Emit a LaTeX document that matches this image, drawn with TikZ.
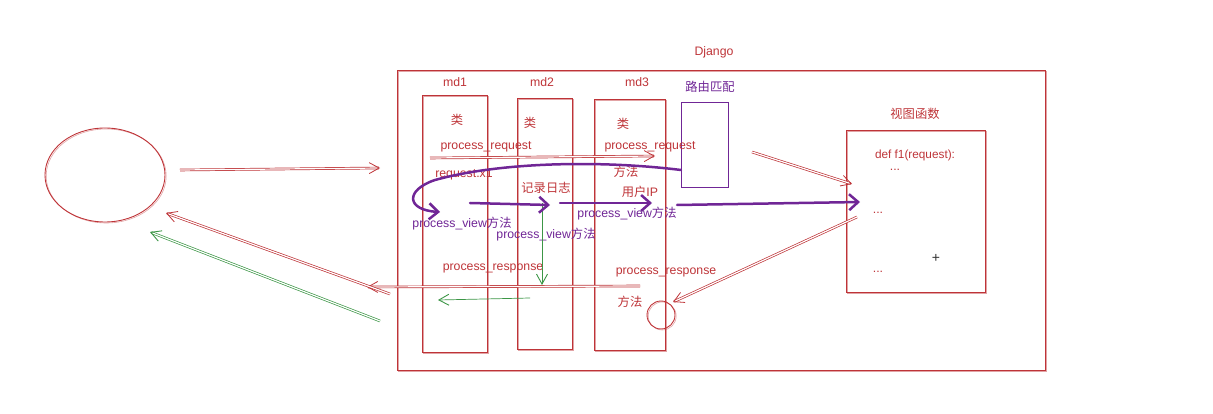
\documentclass[tikz,border=0pt]{standalone}
\usepackage{fontspec}
\setmainfont{Liberation Sans}
\newfontfamily\cjk{Noto Sans CJK SC}
\usetikzlibrary{arrows.meta,shapes.geometric}
\definecolor{rc}{RGB}{190,52,56}
\definecolor{pc}{RGB}{112,38,150}
\definecolor{gc}{RGB}{60,150,70}
\tikzset{
  sk/.style={draw=rc, line width=0.9pt, postaction={draw=rc, opacity=0.45, line width=0.6pt, transform canvas={shift={(1.2pt,-1pt)}}}},
  lbl/.style={text=rc, font=\fontsize{12.3}{14}\selectfont, inner sep=1pt},
  plbl/.style={text=pc, font=\fontsize{12.3}{14}\selectfont, inner sep=1pt},
  rarr/.style={draw=rc, line width=0.7pt, double=white, double distance=1.2pt, -{Straight Barb[length=10pt,width=11pt,line width=0.8pt]}},
  garr/.style={draw=gc, line width=0.7pt, -{Straight Barb[length=10pt,width=11pt,line width=0.9pt]}},
  parr/.style={draw=pc, line width=2.5pt, line cap=round, -{Straight Barb[length=9pt,width=16pt,line width=2.5pt]}},
}
\begin{document}
\begin{tikzpicture}[x=1pt,y=-1pt]
\useasboundingbox (0,0) rectangle (1213,414);
% Django container
\node[sk, minimum width=648pt, minimum height=300pt, inner sep=0pt] (dj) at (721,220) {};
\node[lbl] (djl) at (714,52) {Django};
% middlewares
\node[sk, minimum width=65pt, minimum height=257pt, inner sep=0pt] (md1) at (454.5,223.5) {};
\node[sk, minimum width=55pt, minimum height=251pt, inner sep=0pt] (md2) at (544.5,223.5) {};
\node[sk, minimum width=71pt, minimum height=251pt, inner sep=0pt] (md3) at (629.5,224.5) {};
\node[lbl] (m1l) at (455,82) {md1};
\node[lbl] (m2l) at (542,82) {md2};
\node[lbl] (m3l) at (637,82) {md3};
\node[lbl] (c1) at (457,120) {\cjk 类};
\node[lbl] (c2) at (530,123) {\cjk 类};
\node[lbl] (c3) at (623,124) {\cjk 类};
% router
\node[draw=pc, line width=0.9pt, minimum width=47pt, minimum height=85pt, inner sep=0pt] (route) at (704.5,144.5) {};
\node[plbl] (routel) at (710,87) {\cjk 路由匹配};
% view function
\node[sk, minimum width=139pt, minimum height=162pt, inner sep=0pt] (view) at (915.5,211) {};
\node[lbl] (viewl) at (915,114) {\cjk 视图函数};
\node[lbl, font=\fontsize{11.8}{13}\selectfont] (def) at (915,155) {def f1(request):};
\node[lbl] (d1) at (895,170) {...};
\node[lbl] (d2) at (878,213) {...};
\node[lbl] (d3) at (878,272) {...};
\node[text=black!80, font=\fontsize{14}{14}\selectfont, inner sep=0pt] (plus) at (936,258) {+};
% client
\node[sk, ellipse, minimum width=120pt, minimum height=94pt, inner sep=0pt] (client) at (105,175) {};
% labels
\node[lbl] (pr1) at (486,147) {process\_request};
\node[lbl] (pr2) at (650,147) {process\_request};
\node[lbl] (rx) at (464,175) {request.x1};
\node[lbl] (ff1) at (626,172) {\cjk 方法};
\node[lbl] (log) at (546,188) {\cjk 记录日志};
\node[lbl] (ip) at (640,192) {{\cjk 用户}IP};
\node[plbl] (pv1) at (462,224) {process\_view{\cjk 方法}};
\node[plbl] (pv2) at (546,235) {process\_view{\cjk 方法}};
\node[plbl] (pv3) at (627,214) {process\_view{\cjk 方法}};
\node[lbl] (prs1) at (493,268) {process\_response};
\node[lbl] (prs2) at (666,272) {process\_response};
\node[lbl] (ff2) at (630,302) {\cjk 方法};
\node[sk, circle, minimum size=28pt, inner sep=0pt] (sc) at (661,315) {};
% coordinates
\coordinate (a0) at (180,170);
\coordinate (a1) at (380,168);
\coordinate (b0) at (430,158);
\coordinate (b1) at (655,156);
\coordinate (c0) at (752,152);
\coordinate (c1e) at (852,184);
\coordinate (r0) at (857,217);
\coordinate (r1) at (673,302);
\coordinate (h0) at (640,286);
\coordinate (h1) at (367,287);
\coordinate (e0) at (390,294);
\coordinate (e1) at (166,213);
\coordinate (g0) at (380,321);
\coordinate (g1) at (150,232);
\coordinate (gv0) at (542,203);
\coordinate (gv1) at (542,285);
\coordinate (gh0) at (530,298);
\coordinate (gh1) at (438,300);
\coordinate (p0) at (681,170);
\coordinate (p1) at (440,212);
\coordinate (q0) at (470,203);
\coordinate (q1) at (550,205);
\coordinate (s0) at (560,203);
\coordinate (s1) at (652,203);
\coordinate (t0) at (677,205);
\coordinate (t1) at (860,202);
% red arrows
\draw[rarr] (a0) -- (a1);
\draw[rarr] (b0) -- (b1);
\draw[rarr] (c0) -- (c1e);
\draw[rarr] (r0) -- (r1);
\draw[rarr] (h0) -- (h1);
\draw[rarr] (e0) -- (e1);
% green arrows
\draw[garr, double=white, double distance=1.2pt] (g0) -- (g1);
\draw[garr] (gv0) -- (gv1);
\draw[garr] (gh0) -- (gh1);
% purple arrows
\draw[parr] (p0) .. controls (600,160) and (500,162) .. (435,180) .. controls (405,190) and (406,210) .. (p1);
\draw[parr] (q0) -- (q1);
\draw[parr] (s0) -- (s1);
\draw[parr] (t0) -- (t1);
\end{tikzpicture}
\end{document}
